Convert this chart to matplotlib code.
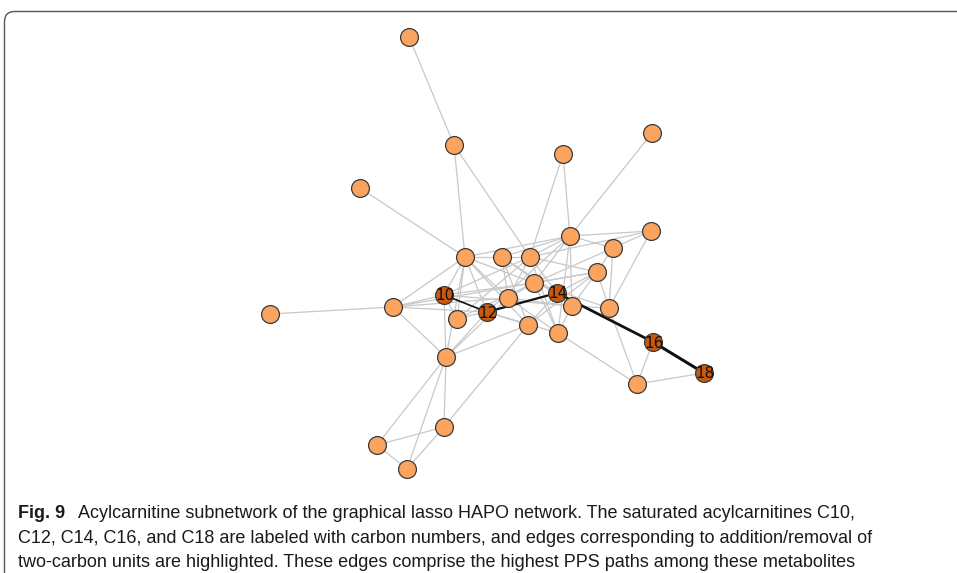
import matplotlib.pyplot as plt
from matplotlib.patches import FancyBboxPatch

# node layout (pixel coordinates of the rendered network)
node_x = [409, 454, 563, 652, 360, 570, 651, 613, 465, 502, 530, 597, 534, 270, 393,
          444, 487, 557, 508, 457, 572, 609, 528, 558, 653, 704, 637, 446, 444, 377, 407]
node_y = [37, 145, 154, 133, 188, 236, 231, 248, 257, 257, 257, 272, 283, 314, 307,
          295, 312, 293, 298, 319, 306, 308, 325, 333, 342, 373, 384, 357, 427, 445, 469]

# saturated acylcarnitines: node index -> carbon number
carbon_nodes = [15, 16, 17, 24, 25]
carbon_labels = ["10", "12", "14", "16", "18"]

edges = [
    (0, 1), (1, 8), (1, 10), (2, 10), (2, 5), (3, 5), (4, 8), (13, 14),
    (14, 8), (14, 15), (14, 27), (14, 18), (14, 11), (14, 16),
    (5, 6), (5, 7), (5, 8), (5, 9), (5, 10), (5, 12), (5, 20), (5, 23), (5, 16),
    (6, 7), (6, 21), (6, 10), (7, 11), (7, 21), (7, 12),
    (8, 9), (8, 15), (8, 16), (8, 18), (8, 19), (8, 27), (8, 12), (8, 22),
    (9, 10), (9, 18), (9, 22), (9, 17), (9, 20),
    (10, 11), (10, 18), (10, 19), (10, 23), (10, 17), (10, 15),
    (11, 17), (11, 12), (11, 21), (11, 20), (11, 22),
    (12, 18), (12, 15), (12, 21), (12, 23), (12, 19),
    (15, 19), (15, 27), (15, 20), (16, 22), (16, 27), (16, 23),
    (18, 20), (18, 27), (18, 23), (19, 17), (20, 23), (20, 21), (22, 27),
    (21, 26), (23, 26), (24, 26), (25, 26), (17, 22), (17, 24),
    (27, 28), (27, 29), (27, 30), (28, 29), (28, 30), (29, 30), (28, 22),
]

# two-carbon steps between the saturated acylcarnitines
chain = [(15, 16, 1.2), (16, 17, 1.6), (17, 24, 2.0), (24, 25, 2.2)]

plt.rcParams['font.family'] = ['Liberation Sans Narrow', 'Liberation Sans', 'DejaVu Sans']

fig = plt.figure(figsize=(9.57, 5.73), dpi=100)
ax = fig.add_axes([0, 0, 1, 1])
ax.set_xlim(0, 957)
ax.set_ylim(573, 0)
ax.axis('off')

# rounded frame around the figure panel
frame = FancyBboxPatch((4.5, 11.5), 990, 600, boxstyle="round,pad=0,rounding_size=10",
                       fill=False, edgecolor='#555555', linewidth=1.0, zorder=0)
ax.add_patch(frame)

for a, b in edges:
    ax.plot([node_x[a], node_x[b]], [node_y[a], node_y[b]], color='#c8c8c8',
            linewidth=0.9, zorder=1, solid_capstyle='round')

for a, b, w in chain:
    ax.plot([node_x[a], node_x[b]], [node_y[a], node_y[b]], color='#111111',
            linewidth=w, zorder=2)

light = [i for i in range(len(node_x)) if i not in carbon_nodes]
ax.scatter([node_x[i] for i in light], [node_y[i] for i in light], s=165,
           c='#fba460', edgecolors='#3a3a3a', linewidths=0.9, zorder=3)
ax.scatter([node_x[i] for i in carbon_nodes], [node_y[i] for i in carbon_nodes], s=165,
           c='#c95a0c', edgecolors='#3a3a3a', linewidths=0.9, zorder=3)

for i, lab in zip(carbon_nodes, carbon_labels):
    ax.text(node_x[i] + 1, node_y[i] + 1, lab, fontsize=11, color='#111111',
            family='DejaVu Sans', ha='center', va='center', zorder=4)

caption = [
    "Acylcarnitine subnetwork of the graphical lasso HAPO network. The saturated acylcarnitines C10,",
    "C12, C14, C16, and C18 are labeled with carbon numbers, and edges corresponding to addition/removal of",
    "two-carbon units are highlighted. These edges comprise the highest PPS paths among these metabolites",
]
ax.text(18, 518, "Fig. 9", fontsize=13, fontweight='bold', color='#1a1a1a', va='baseline')
ax.text(78, 518, caption[0], fontsize=13, color='#1a1a1a', va='baseline')
ax.text(18, 543, caption[1], fontsize=13, color='#1a1a1a', va='baseline')
ax.text(18, 567, caption[2], fontsize=13, color='#1a1a1a', va='baseline')

fig.savefig('out.png', dpi=100)
